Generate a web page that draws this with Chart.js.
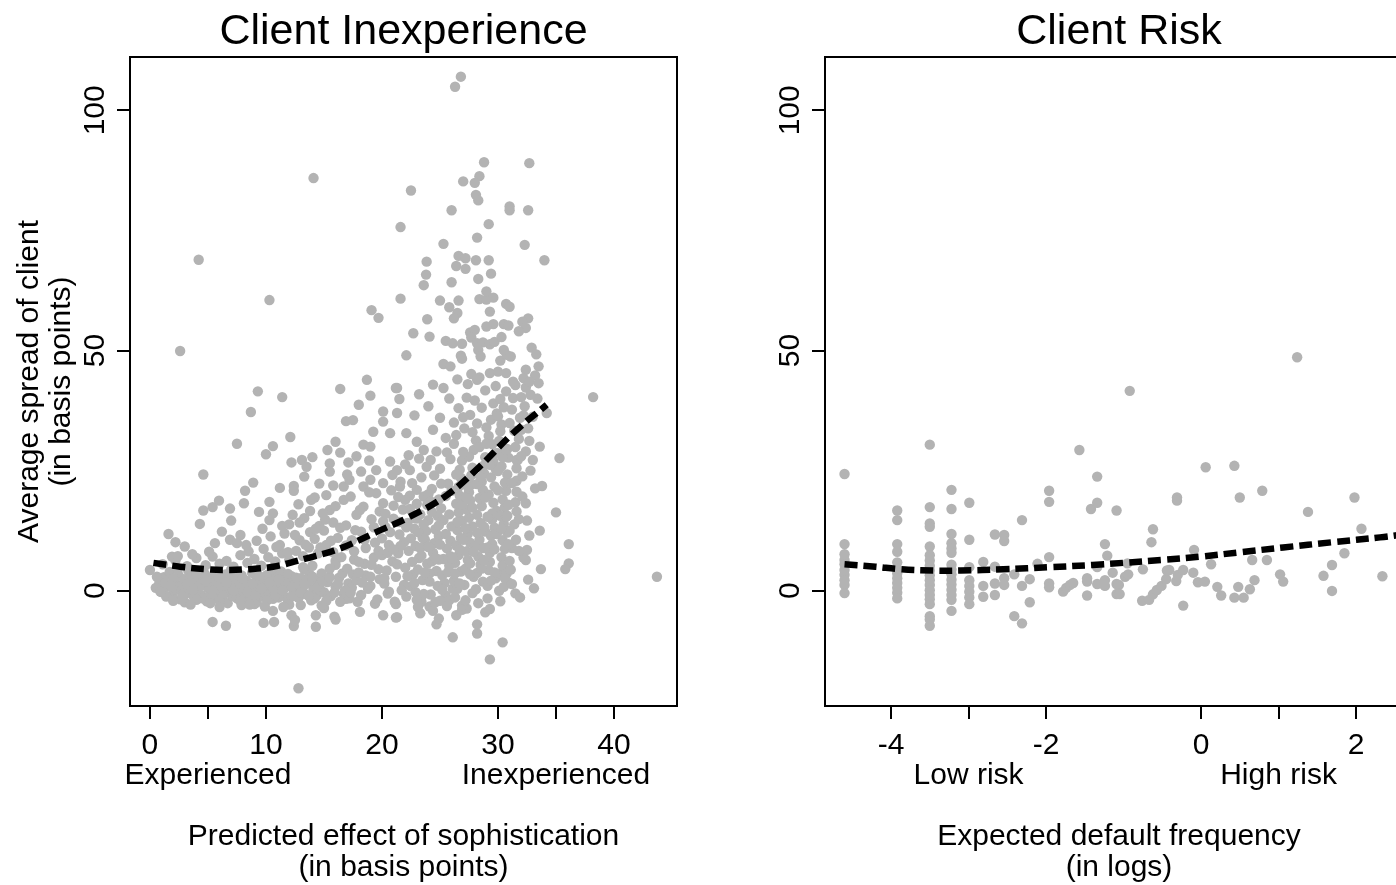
<!DOCTYPE html>
<html>
<head>
<meta charset="utf-8">
<title>Client Inexperience / Client Risk</title>
<script src="https://cdn.jsdelivr.net/npm/chart.js@4.4.1/dist/chart.umd.min.js"></script>
<style>
  html, body { margin: 0; padding: 0; background: #fff; overflow: hidden; }
  body { width: 1396px; height: 885px; position: relative; }
  canvas { position: absolute; top: 0; }
  #inexperienceChart { left: 0; }
  #riskChart { left: 720px; }
</style>
</head>
<body>
<canvas id="inexperienceChart" width="807" height="885"></canvas>
<canvas id="riskChart" width="798" height="885"></canvas>
<script>
// ---- left panel: client inexperience (x = predicted effect, y = avg spread) ----
const inexpBand = [
  [0.8,1.5],[1.0,-0.3],[1.2,2.8],[1.5,0.8],[1.7,3.9],[1.9,-1.0],[2.1,1.9],[2.3,0.2],[2.5,3.1],[2.6,-1.8],
  [2.8,1.2],[3.0,2.4],[3.1,-0.6],[3.3,4.2],[3.4,0.6],[3.6,1.8],[3.8,-1.4],[3.9,3.0],[4.1,0.1],[4.2,2.2],
  [4.4,-0.9],[4.6,1.3],[4.7,3.6],[4.9,-2.2],[5.0,0.5],[5.2,2.7],[5.3,-0.4],[5.5,1.6],[5.6,3.8],[5.8,-1.5],
  [5.9,0.9],[6.1,2.3],[6.2,-0.2],[6.4,1.1],[6.5,3.4],[6.7,-2.6],[6.8,0.3],[7.0,1.9],[7.1,-1.1],[7.3,2.8],
  [7.4,0.7],[7.6,-0.5],[7.7,1.5],[7.9,3.2],[8.0,-1.9],[8.2,0.4],[8.3,2.1],[8.5,-0.8],[8.6,1.2],[8.8,3.7],
  [8.9,-0.1],[9.1,1.8],[9.2,-2.4],[9.4,0.8],[9.5,2.6],[9.7,-1.2],[9.8,0.2],[10.0,1.4],[10.1,3.3],[10.3,-0.6],
  [10.4,2.0],[10.6,-1.7],[10.7,0.9],[10.9,2.9],[11.0,-0.2],[11.2,1.6],[11.3,4.0],[11.5,-1.0],[11.6,0.5],[11.8,2.4],
  [11.9,-2.3],[12.1,1.1],[12.2,3.0],[12.4,-0.4],[12.5,1.9],[12.7,0.1],[12.8,-1.5],[13.0,2.6],[13.1,0.7],[13.3,4.4],
  [13.4,-0.7],[13.6,1.5],[13.8,3.3],[13.9,-2.0],[14.1,0.3],[14.3,2.1],[14.4,-0.9],[14.6,1.2],[14.8,3.6],[15.0,-0.3],
  [0.5,0.6],[1.3,1.6],[2.0,2.6],[2.7,0.0],[3.5,2.8],[4.3,1.0],[5.1,-1.2],[5.7,2.0],[6.3,0.6],[6.9,2.5],
  [7.5,-1.6],[8.1,1.4],[8.7,-1.3],[9.3,2.2],[9.9,-0.4],[10.5,1.0],[11.1,-1.4],[11.7,1.3],[12.3,0.6],[12.9,1.0],
  [13.5,2.3],[14.2,-1.6],[14.7,0.0],[15.3,1.8],[15.6,-1.1],[16.0,0.9],[16.3,2.7],[16.7,-0.6],[17.1,1.5],[17.5,3.4],
  [1.1,5.5],[2.2,6.3],[3.2,5.1],[4.0,6.8],[4.8,5.3],[5.4,7.1],[6.0,5.6],[6.6,6.2],[7.2,5.0],[7.8,7.4],
  [8.4,5.8],[9.0,6.6],[9.6,5.2],[10.2,7.0],[10.8,6.1],[11.4,7.8],[12.0,6.4],[12.6,8.3],[13.2,7.2],[13.7,9.0],
  [14.5,7.8],[15.2,9.5]
];
const inexpBandExtra = [
  [0.6,2.9],[1.4,-1.2],[1.8,1.0],[2.4,4.4],[2.9,-0.5],[3.2,1.4],[3.7,0.2],[4.0,3.4],[4.5,-1.6],[4.8,2.0],
  [5.4,0.0],[5.9,3.0],[6.3,-1.0],[6.6,1.7],[7.2,0.0],[7.5,3.9],[7.8,-2.2],[8.0,2.5],[8.4,-0.3],[8.8,1.5],
  [9.1,-1.0],[9.4,3.1],[9.6,0.4],[10.1,-2.0],[10.3,1.7],[10.8,-0.9],[11.1,2.4],[11.4,0.1],[11.9,3.5],[12.2,-1.2],
  [12.6,2.7],[13.0,-0.4],[13.3,1.2],[13.7,-1.1],[14.0,2.9],[14.4,0.7],[14.9,1.9],[15.2,-2.1],[15.5,2.8],[15.9,-0.4],
  [16.2,1.4],[16.6,3.6],[16.9,-1.7],[17.4,0.6],[17.8,2.2],[18.2,-0.9],[18.6,3.2],[19.0,1.0],[19.4,-2.7],[19.8,2.4],
  [3.0,-2.4],[6.0,-2.1],[9.0,-2.8],[12.0,-2.9],[15.0,-3.6],[2.0,-2.1],[7.0,4.4],[10.5,4.5],[14.0,5.2],[16.0,6.2]
];
const inexpLow = [
  [0.0,4.3],[0.9,-0.2],[2.8,-1.25],[4.0,-1.9],[5.2,-2.6],[5.4,-6.5],[6.55,-7.3],[9.8,-6.7],[10.7,-6.5],[9.9,-3.3],
  [10.6,-4.2],[12.2,-5.1],[12.4,-7.35],[12.5,-6.1],[12.8,-20.3],[14.3,-7.5],[14.3,-5.1],[15.9,-5.4],[16.0,-6.0],[14.8,-3.1],
  [16.4,-2.3],[17.2,-1.6],[18.1,-4.4],[20.1,-5.1],[21.3,-5.5],[23.3,-4.7],[7.9,-3.0],[11.5,-3.4],[13.0,-3.0],[8.6,-2.9],
  [3.5,-2.9],[6.0,-3.4],[29.3,-14.3],[30.4,-10.75],[28.2,-8.9],[26.1,-9.7],[24.7,-7.0],[24.9,-5.8],[26.4,-5.1],[27.3,-3.7],
  [26.9,-4.0],[23.4,-2.3],[24.1,-3.3],[25.6,-3.2],[21.2,-5.6],[21.2,-2.8]
];
const inexpMid = [
  [1.6,11.8],[2.2,10.1],[3.65,7.6],[5.1,8.1],[5.6,9.9],[1.9,7.1],[2.4,7.2],[4.3,13.9],[5.95,18.75],[5.4,17.4],
  [4.6,16.7],[6.9,17.1],[8.1,18.2],[10.3,18.5],[10.6,16.1],[12.3,15.8],[10.3,14.7],[9.7,12.9],[4.6,24.2],[7.5,30.6],
  [10.0,28.4],[10.6,30.1],[12.1,32.0],[9.3,41.5],[11.4,40.3],[8.7,37.2],[12.2,26.7],[13.1,27.2],[14.0,27.8],[13.5,25.8],
  [15.3,29.3],[16.4,28.75],[15.5,26.5],[17.1,26.7],[15.5,24.8],[13.3,23.75],[12.4,21.8],[12.4,20.8],[8.2,20.8],[8.9,22.5],
  [6.9,10.6],[7.8,11.6],[7.5,9.9],[8.3,9.5],
  [15.2,19.9],[15.5,16.8],[16.7,21.7],[17.2,23.1],[16.7,18.9],[18.4,21.7],[19.0,23.1],[19.5,20.3],[20.1,18.2],[18.4,17.5],
  [13.9,18.9],[15.0,12.5],[15.8,14.2],[16.2,11.0],[16.9,13.6],[17.4,10.5],[17.8,15.8],[18.2,12.3],[18.6,8.9],[19.1,14.9],
  [19.4,10.0],[19.8,16.5],[14.2,10.8],[14.6,13.5],[13.8,12.2],[12.9,10.5],[11.6,11.9],[12.0,13.8],[11.2,9.5],[13.3,15.1],
  [14.9,16.1],[16.0,5.4],[16.5,7.0],[17.0,4.6],[17.6,6.5],[18.0,3.8],[18.5,5.6],[19.0,2.9],[19.3,6.9],[19.7,4.5],
  [20.2,1.5],[15.5,4.6],[18.8,0.4],[19.6,-1.8],[20.5,-0.6],[17.9,-2.3],[16.8,0.0],[18.3,1.7],[17.3,-0.4],
  [18.4,30.4],[19.0,30.0],[19.25,33.1],[20.1,35.2],[20.7,32.8],[20.1,37.3],[21.3,37.0],[19.0,40.6],[21.5,39.9],[21.3,42.2],
  [18.7,43.9],[20.7,26.9],[19.5,25.1],[21.3,25.1],[16.4,42.0],[17.5,35.5],[16.0,31.0],[17.8,28.0],[18.9,27.1],[14.6,22.3],
  [20.1,22.4],[16.9,35.3],[18.0,38.7]
];
const inexpMidExtra = [
  [8.5,8.2],[9.2,10.4],[9.8,8.7],[10.4,11.3],[10.9,9.1],[11.4,13.5],[11.9,8.0],[12.5,11.6],[12.9,14.2],[13.4,9.6],
  [13.8,16.6],[14.3,12.9],[14.7,9.0],[15.1,14.8],[15.6,10.4],[16.0,17.6],[16.4,13.1],[16.9,9.4],[17.3,19.6],[17.7,12.6],
  [18.1,16.8],[18.5,10.6],[18.9,20.5],[19.3,13.2],[19.7,8.3],[20.1,14.4],[17.0,24.2],[18.2,24.8],[15.8,21.9],[14.2,19.4],
  [12.8,18.0],[11.2,21.4],[9.4,16.4],[7.0,14.6],[6.2,12.3],[3.0,9.2],[13.2,4.9],[15.8,8.0],[17.6,8.2],[19.1,5.4],
  [20.0,7.4],[18.0,6.0]
];
const inexpDense = [
  [20.3,13.2],[20.6,9.5],[20.9,6.1],[21.2,2.9],[21.5,11.7],[21.8,16.9],[22.0,4.8],[22.3,8.3],[22.5,0.9],[22.8,12.9],
  [23.0,18.1],[23.2,6.8],[23.5,2.2],[23.7,10.6],[24.0,14.7],[24.2,-0.8],[24.4,7.9],[24.7,4.1],[24.9,11.4],[25.1,17.2],
  [25.4,1.6],[25.6,8.8],[25.8,5.2],[26.0,13.4],[20.8,20.9],[21.6,22.7],[22.4,19.8],[23.4,23.6],[24.3,21.2],[25.0,25.4],
  [25.7,22.3],[21.1,-2.3],[22.1,-1.2],[23.1,-3.4],[24.6,-2.4],[25.5,-1.0],[20.4,4.2],[21.0,15.0],[21.9,10.1],[22.7,3.4],
  [23.3,15.9],[23.9,5.6],[24.5,9.9],[25.2,3.2],[25.9,10.4],[21.4,7.8],[22.2,14.1],[22.9,9.3],[23.8,12.4],[24.8,15.6],
  [25.3,6.6],[26.1,0.4],[20.0,10.9],[20.6,-0.2],[24.1,1.9],[22.6,6.0],[23.6,-0.7],[24.9,19.0],
  [22.1,32.8],[23.0,31.0],[23.6,29.3],[22.4,25.1],[23.85,25.8],[21.55,21.7],[23.0,21.0],[23.6,19.6],[24.4,33.5],[25.0,36.0],
  [24.7,29.0],[25.5,31.8],[22.8,36.5],[24.0,38.4],[25.8,40.0],[23.2,40.9],[24.4,42.9],[25.3,42.2],[21.2,42.2],[25.9,27.4],
  [24.2,27.2],[26.2,35.0],[22.3,28.2],
  [20.2,2.6],[20.5,7.9],[20.7,12.2],[21.0,17.7],[21.3,5.5],[21.6,9.3],[21.9,1.2],[22.1,13.2],[22.4,17.0],[22.6,22.4],
  [22.9,-0.3],[23.1,4.4],[23.3,8.9],[23.6,13.8],[23.9,17.9],[24.1,3.6],[24.3,6.1],[24.6,12.8],[24.8,1.0],[25.0,9.6],
  [25.3,14.7],[25.5,19.7],[25.7,3.9],[25.9,7.2],[20.9,24.1],[22.0,26.3],[23.2,27.5],[24.5,24.0],[25.6,28.8],[21.7,0.1],
  [23.0,-1.9],[24.4,-4.2],[25.8,-2.0],[22.8,15.1],[24.0,20.1],[21.4,19.5],[20.3,16.0],[25.1,22.3],[23.5,11.0],[24.9,6.5]
];
const inexpCore = [
  [26.2,2.1],[26.3,5.8],[26.4,9.4],[26.5,12.6],[26.6,16.3],[26.7,19.8],[26.8,23.5],[26.9,27.1],[26.3,-1.4],[26.5,0.4],
  [26.6,7.4],[26.8,11.0],[26.9,14.5],[26.4,18.1],[26.7,25.2],[26.2,30.6],[26.8,4.0],[26.6,21.6],[26.9,-3.1],[26.4,32.4],
  [27.1,1.2],[27.2,4.6],[27.3,8.2],[27.4,11.8],[27.5,15.2],[27.6,18.8],[27.7,22.1],[27.8,25.6],[27.9,29.3],[27.2,-2.0],
  [27.4,6.4],[27.6,10.0],[27.8,13.4],[27.3,16.9],[27.5,20.5],[27.7,24.0],[27.9,2.9],[27.1,33.8],[27.6,36.6],[27.3,40.2],
  [27.8,-0.5],[27.5,27.9],
  [28.1,0.3],[28.2,3.7],[28.3,7.1],[28.4,10.6],[28.5,14.1],[28.6,17.6],[28.7,21.0],[28.8,24.4],[28.9,27.8],[28.1,31.3],
  [28.3,-2.6],[28.5,5.4],[28.7,8.9],[28.9,12.3],[28.2,15.8],[28.4,19.3],[28.6,22.7],[28.8,26.1],[28.2,34.8],[28.6,38.1],
  [28.9,41.7],[28.4,44.4],[28.7,1.9],[28.9,-4.5],[28.2,-7.0],
  [29.1,1.0],[29.2,4.3],[29.3,7.9],[29.4,11.4],[29.5,14.8],[29.6,18.3],[29.7,21.7],[29.8,25.3],[29.9,28.7],[29.2,32.2],
  [29.4,35.6],[29.6,39.0],[29.8,42.6],[29.1,-1.6],[29.3,6.0],[29.5,9.7],[29.7,13.1],[29.9,16.6],[29.2,20.0],[29.4,23.6],
  [29.6,27.0],[29.8,2.6],[29.5,30.5],[29.9,36.9],[29.3,-3.8],
  [30.1,0.0],[30.2,3.5],[30.3,7.0],[30.4,10.5],[30.5,13.9],[30.6,17.4],[30.7,20.8],[30.8,24.2],[30.9,27.7],[30.1,31.2],
  [30.3,34.6],[30.5,38.2],[30.7,41.5],[30.2,-2.2],[30.4,5.2],[30.6,8.7],[30.8,12.1],[30.2,15.6],[30.4,19.0],[30.6,22.5],
  [30.8,29.5],[30.9,1.7],[30.3,25.9],[30.75,3.6],[30.5,0.8],
  [31.1,4.4],[31.2,8.9],[31.4,13.8],[31.5,18.4],[31.6,22.9],[31.7,27.2],[31.8,31.6],[31.9,36.0],[31.3,40.1],[31.5,-0.55],
  [31.9,-1.4],[31.6,20.6],[32.1,19.6],[31.6,27.2],[31.6,25.5],[30.9,17.9],[30.7,15.4],[31.55,10.6],[31.0,12.5],[32.8,25.0],
  [32.0,33.5],[32.3,38.4],[32.5,14.6],[32.2,6.9],[32.6,2.3],[31.2,37.7],[32.4,29.0],
  [26.3,3.6],[26.5,14.3],[26.7,8.6],[26.9,17.9],[27.0,28.9],[27.2,13.0],[27.4,21.6],[27.6,5.7],[27.8,17.3],[28.0,9.2],
  [28.2,22.2],[28.4,29.9],[28.6,4.6],[28.8,13.3],[28.9,19.4],[29.1,9.0],[29.3,26.2],[29.5,16.1],[29.7,3.8],[29.9,11.8],
  [30.0,20.9],[30.2,33.2],[30.4,27.8],[30.6,2.6],[30.8,15.6],[31.0,6.2],[31.2,22.4],[31.4,33.3],[31.6,16.5],[31.8,8.3],
  [32.0,28.0],[32.2,36.5],[32.4,42.3],[32.6,33.8],[32.8,40.8],[33.0,36.2],[33.2,44.8],[31.5,42.8],[30.2,39.9],[27.8,33.0],
  [26.6,38.0],[27.4,43.0],[29.0,34.0],[33.4,40.0]
];
const inexpCoreExtra = [
  [22.2,3.0],[22.5,10.9],[22.8,1.6],[23.1,12.2],[23.4,7.3],[23.7,3.8],[24.0,9.1],[24.3,16.4],[24.6,6.8],[24.9,13.6],
  [25.2,0.2],[25.5,11.8],[25.8,15.9],[26.1,6.7],[26.4,24.2],[26.7,1.5],[27.0,10.6],[27.3,19.3],[27.6,3.4],[27.9,8.1],
  [28.2,12.1],[28.5,23.6],[28.8,6.4],[29.1,15.4],[29.4,2.1],[29.7,8.6],[30.0,24.9],[30.3,12.9],[30.6,29.4],[30.9,9.7],
  [31.2,1.4],[31.5,29.9],[31.8,14.9],[32.1,23.8],[32.4,18.2],[32.7,31.2],[33.0,27.2],[21.0,8.6],[21.5,14.3],[22.0,18.9],
  [23.0,15.0],[24.2,18.6],[25.0,-2.1],[26.0,20.8],[27.0,36.1],[28.0,39.6],[29.0,30.6],[30.0,36.3],[31.0,34.9],[32.0,40.3]
];
const inexpTail = [
  [38.2,40.3],[35.3,27.6],[35.0,16.3],[36.1,9.7],[36.1,5.7],[35.8,4.5],[43.7,2.9],[33.7,4.5],[33.1,0.5],[33.6,30.0],
  [33.8,21.8],[33.2,21.3],[33.6,12.5],[32.7,11.5],[32.5,8.5],[32.4,6.4],[34.2,37.0]
];
const inexpHigh = [
  [28.8,89.2],[32.7,89.0],[28.4,86.3],[27.0,85.2],[28.0,84.9],[22.5,83.3],[28.1,82.4],[28.3,81.25],[31.0,80.0],[31.0,79.2],
  [32.6,79.2],[26.0,79.2],[21.6,75.7],[29.2,76.3],[28.2,73.5],[25.3,72.2],[32.3,72.0],[34.0,68.8],[23.85,68.5],[26.6,69.7],
  [27.2,69.2],[26.4,67.6],[27.2,67.0],[28.1,68.8],[29.2,68.8],[23.8,65.8],[23.6,63.6],[26.0,64.2],[28.3,64.9],[29.4,66.0],
  [21.6,60.8],[25.0,60.4],[26.6,60.4],[28.4,60.7],[29.0,60.6],[29.6,61.0],[29.0,62.3],[25.8,59.0],[26.5,57.8],[26.2,56.7],
  [30.7,59.7],[31.0,59.1],[29.3,58.1],[19.1,58.4],[19.7,56.8],[23.9,56.5],[32.6,56.7],[32.1,56.0],[32.4,54.7],[31.8,54.0],
  [22.7,53.6],[24.1,52.9],[25.5,52.0],[26.1,51.5],[26.9,51.4],[29.6,55.5],[30.5,55.5],[30.9,55.2],[29.0,55.0],[27.6,53.75],
  [28.0,54.3],[27.7,52.7],[28.2,51.5],[28.7,51.7],[29.3,51.3],[29.7,51.8],[30.3,52.8],[22.1,49.0],[25.3,47.2],[25.9,46.7],
  [26.8,48.9],[26.9,48.3],[28.3,50.1],[28.5,48.75],[30.2,47.9],[30.5,50.1],[30.75,49.1],[31.1,48.75],[32.9,50.6],[33.3,49.2],
  [33.5,46.7],[32.4,46.0],[26.5,44.0],[27.7,45.1],[28.2,43.9],[29.3,45.3],[30.0,45.6],[30.7,45.3],[31.3,43.5],[32.2,44.25],
  [32.7,43.5],[33.5,43.2],[26.3,104.9],[26.8,107.0],
  [2.6,49.9],[4.2,68.9],[10.3,60.5],[14.1,85.9]
];
const inexpFit = [
  [0.3,5.8],[2.6,5.0],[4.9,4.45],[6.5,4.3],[8.3,4.45],[10.6,5.0],[13.5,6.75],[16.4,8.8],
  [19.5,12.2],[22.4,15.4],[25.6,19.9],[28.4,25.8],[31.3,32.8],[34.2,38.7]
];
const inexpTicks = [0, 5, 10, 20, 30, 35, 40];
const inexpTickLabels = ['0', ['', 'Experienced'], '10', '20', '30', ['', 'Inexperienced'], '40'];

// ---- right panel: client risk (x = log expected default frequency) ----
const riskPoints = [
  [-4.6,24.3],[-4.6,9.7],[-4.6,7.6],[-4.6,6.4],[-4.6,5.5],[-4.6,4.3],[-4.6,3.3],[-4.6,2.2],[-4.6,1.2],[-4.6,-0.5],
  [-3.92,16.7],[-3.92,14.7],[-3.92,9.7],[-3.92,8.1],[-3.92,5.9],[-3.92,4.6],[-3.92,3.6],[-3.92,2.6],[-3.92,1.6],[-3.92,0.6],
  [-3.92,-0.4],[-3.92,-1.6],
  [-3.5,30.4],[-3.5,17.4],[-3.5,14.0],[-3.5,13.3],[-3.5,9.2],[-3.5,7.4],[-3.5,6.3],[-3.5,5.2],[-3.5,4.2],[-3.5,3.2],
  [-3.5,2.2],[-3.5,1.2],[-3.5,0.1],[-3.5,-0.9],[-3.5,-1.8],[-3.5,-2.8],[-3.5,-5.3],[-3.5,-6.0],[-3.5,-7.3],
  [-3.22,21.0],[-3.22,17.0],[-3.22,11.8],[-3.22,9.9],[-3.22,8.8],[-3.22,7.9],[-3.22,5.4],[-3.22,4.4],[-3.22,3.4],[-3.22,2.3],
  [-3.22,1.3],[-3.22,0.2],[-3.22,-0.9],[-3.22,-1.9],[-3.22,-4.2],
  [-2.99,18.3],[-2.99,10.6],[-2.99,4.9],[-2.99,2.2],[-2.99,1.0],[-2.99,-0.2],[-2.99,-1.4],[-2.99,-2.8],
  [-2.81,6.0],[-2.81,1.0],[-2.81,-1.25],[-2.66,11.7],[-2.66,5.0],[-2.66,1.5],[-2.66,-0.9],[-2.54,11.6],[-2.54,10.35],[-2.54,2.6],
  [-2.54,1.2],[-2.41,3.4],[-2.41,-5.3],[-2.31,14.7],[-2.31,1.0],[-2.31,-6.8],[-2.21,2.4],[-2.21,-2.4],[-2.11,5.6],[-1.96,20.8],
  [-1.96,18.5],[-1.96,7.0],[-1.96,1.5],[-1.96,0.7],[-1.78,-0.2],[-1.74,0.6],[-1.69,1.2],[-1.65,1.6],[-1.57,29.3],[-1.47,2.6],
  [-1.47,1.9],[-1.47,-1.0],[-1.42,17.0],[-1.34,23.75],[-1.34,18.3],[-1.34,4.9],[-1.34,1.4],[-1.24,9.7],[-1.21,7.3],[-1.24,2.2],
  [-1.24,1.0],[-1.14,3.75],[-1.09,16.7],[-1.09,1.4],[-1.09,-0.7],[-1.25,1.2],[-1.06,1.2],[-1.05,-0.7],[-0.92,41.6],[1.24,48.6],
  [-0.95,5.7],[-0.98,2.9],[-0.94,3.4],[-0.75,4.45],[-0.76,-2.1],[-0.67,-1.9],[-0.62,-0.75],[-0.57,0.15],[-0.51,1.0],[-0.45,2.4],
  [-0.41,4.3],[-0.44,4.2],[-0.64,10.1],[-0.62,12.8],[-0.31,19.4],[-0.31,18.75],[-0.32,2.0],[-0.30,3.3],[-0.23,4.3],[-0.23,-3.1],
  [-0.09,8.5],[-0.1,3.75],[-0.04,1.75],[0.05,1.9],[0.06,25.7],[0.13,5.5],[0.21,0.8],[0.26,-1.0],[0.43,26.0],[0.5,19.4],
  [0.43,-1.45],[0.55,-1.45],[0.48,0.8],[0.63,0.3],[0.69,2.2],[0.66,6.4],[0.85,6.4],[0.79,20.8],[1.02,3.4],[1.06,1.9],
  [1.38,16.4],[1.58,3.1],[1.69,5.35],[1.69,-0.05],[1.85,7.8],[1.98,19.4],[2.07,12.9],[2.34,3.0]
];
const riskFit = [
  [-4.6,5.5],[-4.2,5.0],[-3.9,4.5],[-3.45,4.2],[-3.1,4.2],[-2.55,4.45],[-1.95,4.9],[-1.4,5.35],
  [-1.0,5.8],[-0.5,6.4],[0,7.1],[0.5,8.0],[1.06,9.0],[1.7,10.1],[2.31,11.1],[2.6,11.7]
];
const riskTicks = [-4, -3, -2, 0, 1, 2];
const riskTickLabels = ['-4', ['', 'Low risk'], '-2', '0', ['', 'High risk'], '2'];

const spreadTicks = [0, 50, 100];

const fontFamily = "'Liberation Sans', Arial, Helvetica, sans-serif";
Chart.defaults.font.family = fontFamily;
Chart.defaults.color = '#000';

// box round the plot area
const frame = {
  id: 'frame',
  afterDraw(chart) {
    const { ctx, chartArea: a } = chart;
    ctx.save();
    ctx.strokeStyle = '#000';
    ctx.lineWidth = 2;
    ctx.strokeRect(a.left, a.top, a.right - a.left, a.bottom - a.top);
    ctx.restore();
  }
};

// panel title, centred over the plot area (not the canvas)
const panelTitle = {
  id: 'panelTitle',
  afterDraw(chart, args, opts) {
    const { ctx, chartArea: a } = chart;
    ctx.save();
    ctx.font = '43px ' + fontFamily;
    ctx.fillStyle = '#000';
    ctx.textAlign = 'center';
    ctx.textBaseline = 'middle';
    ctx.fillText(opts.text, (a.left + a.right) / 2, 32);
    ctx.restore();
  }
};

const toXY = pairs => pairs.map(p => ({ x: p[0], y: p[1] }));

const axisLines = {
  grid: { display: true, drawOnChartArea: false, drawTicks: true, tickLength: 13, color: '#000', lineWidth: 2 },
  border: { display: true, color: '#000', width: 2 }
};

const makePanel = (canvasId, cfg) => new Chart(document.getElementById(canvasId), {
  type: 'scatter',
  data: {
    datasets: [
      {
        data: toXY(cfg.fit),
        showLine: true,
        borderColor: '#000',
        borderWidth: 6.5,
        borderDash: [13, 6],
        borderCapStyle: 'butt',
        tension: 0.4,
        pointRadius: 0,
        order: 0
      },
      {
        data: toXY(cfg.points),
        pointRadius: 5.2,
        pointBackgroundColor: '#b3b3b3',
        pointBorderWidth: 0,
        order: 1
      }
    ]
  },
  options: {
    responsive: false,
    animation: false,
    events: [],
    layout: { padding: { left: 0, right: cfg.padRight, top: 57, bottom: 0 } },
    plugins: {
      legend: { display: false },
      tooltip: { enabled: false },
      title: { display: false },
      panelTitle: { text: cfg.title }
    },
    scales: {
      x: {
        type: 'linear',
        min: cfg.xMin,
        max: cfg.xMax,
        ...axisLines,
        afterBuildTicks: s => { s.ticks = cfg.xTicks.map(v => ({ value: v })); },
        afterFit: s => { s.height = 179; },
        ticks: {
          autoSkip: false,
          maxRotation: 0,
          minRotation: 0,
          padding: 12,
          font: { size: 30, lineHeight: 1.0 },
          callback: v => cfg.xLabels[cfg.xTicks.indexOf(v)]
        },
        title: {
          display: true,
          text: cfg.xTitle,
          font: { size: 30, lineHeight: 1.03 },
          padding: { top: 0, bottom: 1.5 }
        }
      },
      y: {
        type: 'linear',
        min: -24,
        max: 111.1,
        ...axisLines,
        afterBuildTicks: s => { s.ticks = spreadTicks.map(v => ({ value: v })); },
        afterFit: s => { s.width = cfg.yWidth; },
        ticks: {
          minRotation: 90,
          maxRotation: 90,
          crossAlign: 'center',
          padding: -4,
          font: { size: 30, lineHeight: 1.0 },
          callback: v => String(v)
        },
        title: {
          display: cfg.yTitle !== null,
          text: cfg.yTitle || '',
          font: { size: 30, lineHeight: 1.05 },
          padding: { top: 14.25, bottom: 0 }
        }
      }
    }
  },
  plugins: [frame, panelTitle]
});

makePanel('inexperienceChart', {
  title: 'Client Inexperience',
  points: [].concat(inexpBand, inexpBandExtra, inexpLow, inexpMid, inexpMidExtra, inexpDense, inexpCore, inexpCoreExtra, inexpTail, inexpHigh),
  fit: inexpFit,
  xMin: -1.72,
  xMax: 45.43,
  xTicks: inexpTicks,
  xLabels: inexpTickLabels,
  xTitle: ['Predicted effect of sophistication', '(in basis points)'],
  yTitle: ['Average spread of client', '(in basis points)'],
  yWidth: 130,
  padRight: 130
});

makePanel('riskChart', {
  title: 'Client Risk',
  points: riskPoints,
  fit: riskFit,
  xMin: -4.852,
  xMax: 2.735,
  xTicks: riskTicks,
  xLabels: riskTickLabels,
  xTitle: ['Expected default frequency', '(in logs)'],
  yTitle: null,
  yWidth: 105,
  padRight: 105
});
</script>
</body>
</html>
